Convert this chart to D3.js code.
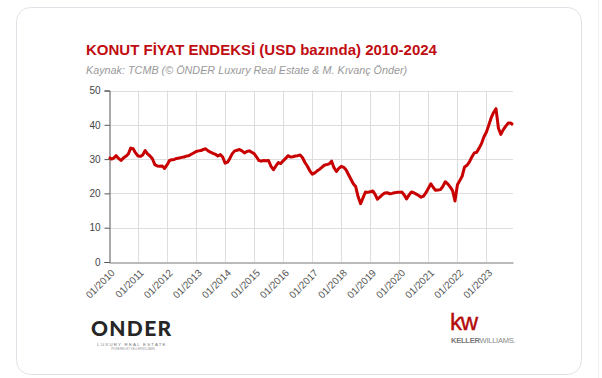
<!DOCTYPE html>
<html>
<head>
<meta charset="utf-8">
<script src="https://cdn.jsdelivr.net/npm/d3@7"></script>
<style>
  html, body { margin: 0; padding: 0; background: #fff; }
  svg { display: block; font-family: "Liberation Sans", Arial, sans-serif; }
</style>
</head>
<body>
<svg id="chart" width="602" height="378"></svg>
<script>
// monthly index values, 01/2010 .. 12/2023
const indexValues = [
    30.6, 30.0, 30.3, 31.0, 30.2, 29.6, 30.3, 30.8, 31.5, 33.2, 33.0, 31.8, // 2010
    30.9, 30.8, 31.2, 32.5, 31.5, 30.9, 30.1, 28.4, 28.0, 27.9, 28.0, 27.3, // 2011
    28.3, 29.6, 29.8, 29.9, 30.2, 30.3, 30.5, 30.6, 30.9, 31.0, 31.4, 31.8, // 2012
    32.2, 32.4, 32.5, 32.8, 33.0, 32.4, 32.0, 31.7, 31.4, 30.9, 31.3, 30.6, // 2013
    28.8, 29.1, 30.2, 31.6, 32.4, 32.6, 32.8, 32.4, 31.8, 32.2, 32.4, 32.0, // 2014
    31.6, 30.6, 29.6, 29.4, 29.6, 29.5, 29.6, 27.9, 26.9, 28.0, 29.0, 28.7, // 2015
    29.5, 30.2, 31.0, 30.6, 30.7, 30.9, 31.0, 31.2, 30.4, 29.0, 27.9, 26.6, // 2016
    25.6, 26.0, 26.5, 27.0, 27.6, 28.2, 28.4, 28.6, 29.4, 27.5, 26.4, 27.3, // 2017
    27.9, 27.6, 26.9, 25.5, 24.2, 22.8, 22.0, 19.0, 17.0, 18.7, 20.4, 20.3, // 2018
    20.5, 20.7, 19.8, 18.3, 18.9, 19.6, 20.1, 20.2, 19.9, 20.0, 20.2, 20.3, // 2019
    20.3, 20.4, 19.6, 18.4, 19.5, 20.4, 20.2, 19.8, 19.4, 18.9, 19.2, 20.2, // 2020
    21.5, 22.8, 21.8, 20.9, 21.0, 21.1, 22.0, 23.4, 22.8, 21.9, 20.8, 17.8, // 2021
    22.5, 23.8, 25.0, 27.7, 28.2, 29.2, 30.6, 31.8, 32.0, 33.2, 34.6, 36.5, // 2022
    37.9, 40.0, 42.0, 43.6, 44.7, 39.0, 37.2, 38.6, 39.6, 40.5, 40.5, 40.0  // 2023
];
const startYear = 2010;
const tickYears = [2010, 2011, 2012, 2013, 2014, 2015, 2016, 2017, 2018, 2019, 2020, 2021, 2022, 2023];
const yTicks = [0, 10, 20, 30, 40, 50];

const titleText = "KONUT FİYAT ENDEKSİ (USD bazında) 2010-2024";
const sourceText = "Kaynak: TCMB (© ÖNDER Luxury Real Estate & M. Kıvanç Önder)";

const svg = d3.select("#chart");

// card
svg.append("rect")
    .attr("x", 16.5).attr("y", 7.5)
    .attr("width", 565).attr("height", 367)
    .attr("rx", 14)
    .attr("fill", "#fff")
    .attr("stroke", "#dfe3e7");
svg.append("line")
    .attr("x1", 598.5).attr("x2", 598.5)
    .attr("y1", 0).attr("y2", 378)
    .attr("stroke", "#eef0f2");

// titles
svg.append("text")
    .attr("x", 86).attr("y", 55)
    .attr("fill", "#c00d12")
    .attr("font-size", 15)
    .attr("font-weight", "bold")
    .text(titleText);
svg.append("text")
    .attr("x", 86).attr("y", 74)
    .attr("fill", "#9a9a9a")
    .attr("font-size", 10.8)
    .attr("font-style", "italic")
    .text(sourceText);

const data = indexValues.map((v, i) => ({
    date: new Date(startYear, i, 1),
    value: v
}));

const x = d3.scaleTime()
    .domain([data[0].date, data[data.length - 1].date])
    .range([109, 513]);
const y = d3.scaleLinear()
    .domain([0, 50])
    .range([262, 90.5]);

// grid
svg.append("g")
    .selectAll("line")
    .data(yTicks.slice(1))
    .enter().append("line")
    .attr("x1", 109).attr("x2", 513)
    .attr("y1", d => Math.round(y(d)) + 0.5)
    .attr("y2", d => Math.round(y(d)) + 0.5)
    .attr("stroke", "#dedede");
svg.append("g")
    .selectAll("line")
    .data(tickYears.slice(1))
    .enter().append("line")
    .attr("x1", d => Math.round(x(new Date(d, 0, 1))) + 0.5)
    .attr("x2", d => Math.round(x(new Date(d, 0, 1))) + 0.5)
    .attr("y1", y(50)).attr("y2", y(0))
    .attr("stroke", "#dedede");

// y axis
const yAxis = svg.append("g")
    .attr("transform", "translate(109.5,0)")
    .call(d3.axisLeft(y).tickValues(yTicks).tickSize(5).tickPadding(4));
yAxis.select(".domain").attr("stroke", "#555");
yAxis.selectAll(".tick line").attr("stroke", "#555");
yAxis.selectAll("text")
    .attr("fill", "#444")
    .attr("font-size", 10)
    .attr("font-family", "Liberation Sans, Arial, sans-serif");

// x axis
const xAxis = svg.append("g")
    .attr("transform", "translate(0," + (Math.round(y(0)) + 0.5) + ")")
    .call(d3.axisBottom(x)
        .tickValues(tickYears.map(yr => new Date(yr, 0, 1)))
        .tickFormat(d3.timeFormat("%m/%Y"))
        .tickSize(0)
        .tickSizeOuter(0));
xAxis.select(".domain").attr("stroke", "#777");
xAxis.selectAll("text")
    .attr("fill", "#555")
    .attr("font-size", 10)
    .attr("font-family", "Liberation Sans, Arial, sans-serif")
    .attr("text-anchor", "end")
    .attr("dy", null)
    .attr("y", 0)
    .attr("transform", "translate(6,11) rotate(-45)");

// line
const line = d3.line()
    .x(d => x(d.date))
    .y(d => y(d.value));
svg.append("path")
    .datum(data)
    .attr("d", line)
    .attr("fill", "none")
    .attr("stroke", "#c80000")
    .attr("stroke-width", 3)
    .attr("stroke-linejoin", "round");

// logos
const onder = svg.append("g");
onder.append("text")
    .attr("x", 91).attr("y", 336)
    .attr("font-family", "Lato, sans-serif")
    .attr("font-weight", 900)
    .attr("font-size", 21)
    .attr("letter-spacing", 1.3)
    .attr("fill", "#262626")
    .text("ONDER");
onder.append("text")
    .attr("x", 132).attr("y", 345.5)
    .attr("text-anchor", "middle")
    .attr("font-size", 4.4)
    .attr("letter-spacing", 1.2)
    .attr("fill", "#777")
    .text("LUXURY REAL ESTATE");
onder.append("text")
    .attr("x", 133).attr("y", 350)
    .attr("text-anchor", "middle")
    .attr("font-size", 2.8)
    .attr("fill", "#999")
    .text("POWERED BY KELLERWILLIAMS");

const kw = svg.append("g");
kw.append("text")
    .attr("x", 450).attr("y", 330)
    .attr("font-family", "Liberation Sans, Arial, sans-serif")
    .attr("font-size", 24)
    .attr("letter-spacing", -1.2)
    .attr("fill", "#b40a0a")
    .attr("stroke", "#b40a0a")
    .attr("stroke-width", 0.4)
    .text("kw");
const kwName = kw.append("text")
    .attr("x", 451).attr("y", 342.5)
    .attr("font-size", 7.6)
    .attr("letter-spacing", -0.3)
    .attr("fill", "#8a8a8a");
kwName.append("tspan").attr("font-weight", "bold").attr("fill", "#777").text("KELLER");
kwName.append("tspan").text("WILLIAMS.");
</script>
</body>
</html>
